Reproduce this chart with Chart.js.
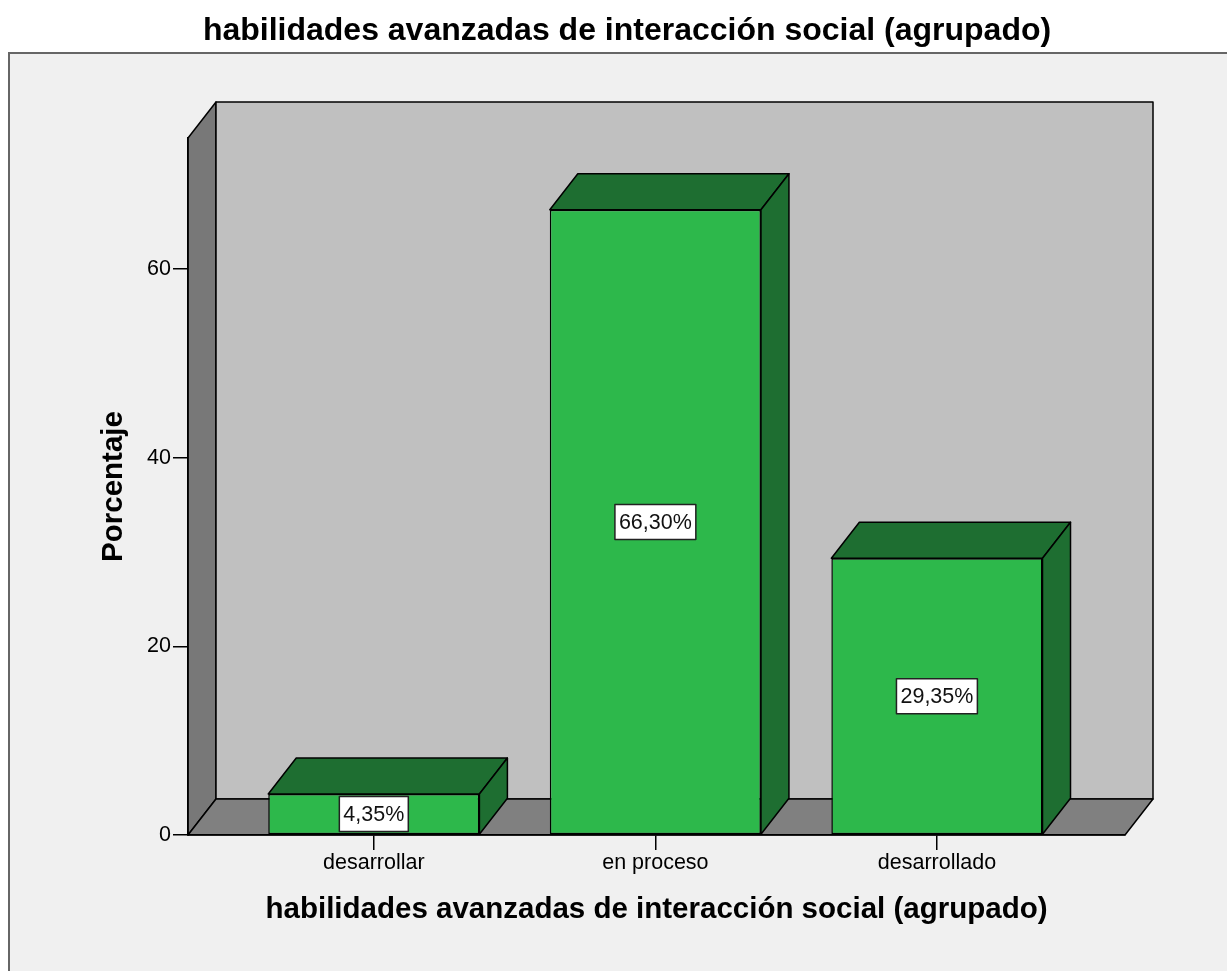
<!DOCTYPE html>
<html>
<head>
<meta charset="utf-8">
<script src="https://cdn.jsdelivr.net/npm/chart.js@4.4.1/dist/chart.umd.min.js"></script>
<style>
  body { margin: 0; background: #fff; }
  canvas { display: block; }
</style>
</head>
<body>
<canvas id="barChart" width="1227" height="971"></canvas>
<script>
const categories = ["desarrollar", "en proceso", "desarrollado"];
const percentages = [4.35, 66.30, 29.35];
const yTicks = [0, 20, 40, 60];
const yMax = 73.9;
const chartTitle = "habilidades avanzadas de interacción social (agrupado)";
const xTitle = "habilidades avanzadas de interacción social (agrupado)";
const yTitle = "Porcentaje";

const FONT = '"Liberation Sans", Arial, sans-serif';
const DX = 28, DY = -36; // 3d depth offset

Chart.defaults.color = '#000';
Chart.defaults.font.family = FONT;

function poly(ctx, pts, fill) {
    ctx.beginPath();
    ctx.moveTo(pts[0][0], pts[0][1]);
    for (let i = 1; i < pts.length; i++) ctx.lineTo(pts[i][0], pts[i][1]);
    ctx.closePath();
    ctx.fillStyle = fill;
    ctx.fill();
    ctx.stroke();
}

const box3d = {
    id: 'box3d',
    beforeDraw(chart) {
        const ctx = chart.ctx;
        const {left, right, top, bottom} = chart.chartArea;
        ctx.save();
        ctx.fillStyle = '#fff';
        ctx.fillRect(0, 0, chart.width, chart.height);
        ctx.fillStyle = '#f0f0f0';
        ctx.fillRect(10, 54, chart.width, chart.height);
        ctx.strokeStyle = '#666';
        ctx.lineWidth = 2;
        ctx.strokeRect(9, 53, chart.width + 20, chart.height + 20);

        ctx.strokeStyle = '#000';
        ctx.lineWidth = 1.5;
        ctx.lineJoin = 'round';
        // left wall
        poly(ctx, [[left, top], [left + DX, top + DY], [left + DX, bottom + DY], [left, bottom]], '#787878');
        // back wall
        poly(ctx, [[left + DX, top + DY], [right + DX, top + DY], [right + DX, bottom + DY], [left + DX, bottom + DY]], '#c0c0c0');
        // floor
        poly(ctx, [[left, bottom], [left + DX, bottom + DY], [right + DX, bottom + DY], [right, bottom]], '#808080');
        ctx.restore();
    },
    afterDatasetsDraw(chart) {
        const ctx = chart.ctx;
        const meta = chart.getDatasetMeta(0);
        ctx.save();
        ctx.strokeStyle = '#000';
        ctx.lineWidth = 1.5;
        ctx.lineJoin = 'round';
        meta.data.forEach((bar, i) => {
            const {x, y, base, width} = bar.getProps(['x', 'y', 'base', 'width'], true);
            const x0 = x - width / 2, x1 = x + width / 2;
            poly(ctx, [[x0, y], [x0 + DX, y + DY], [x1 + DX, y + DY], [x1, y]], '#1e6e31');
            poly(ctx, [[x1, y], [x1 + DX, y + DY], [x1 + DX, base + DY], [x1, base]], '#1e6e31');

            // value label
            const txt = percentages[i].toFixed(2).replace('.', ',') + '%';
            ctx.font = '21.5px ' + FONT;
            const w = ctx.measureText(txt).width + 8;
            const h = 35;
            const cy = (y + base) / 2;
            ctx.fillStyle = '#fff';
            ctx.strokeStyle = '#222';
            ctx.fillRect(x - w / 2, cy - h / 2, w, h);
            ctx.strokeRect(x - w / 2, cy - h / 2, w, h);
            ctx.fillStyle = '#111';
            ctx.textAlign = 'center';
            ctx.textBaseline = 'middle';
            ctx.fillText(txt, x, cy + 1);
            ctx.strokeStyle = '#000';
        });
        ctx.restore();
    }
};

const tickFont = {family: FONT, size: 21.5};
const titleFont = {family: FONT, size: 29.5, weight: 'bold'};

new Chart(document.getElementById('barChart'), {
    type: 'bar',
    data: {
        datasets: [{
            label: 'Porcentaje',
            data: categories.map((c, i) => ({x: i, y: percentages[i]})),
            backgroundColor: '#2db84b',
            borderColor: '#000',
            borderWidth: 1.5,
            borderSkipped: false,
            categoryPercentage: 1,
            barPercentage: 0.75
        }]
    },
    options: {
        responsive: false,
        animation: false,
        layout: {padding: {left: 27, right: 0, top: 0, bottom: 0}},
        plugins: {
            legend: {display: false},
            tooltip: {enabled: false},
            title: {
                display: true,
                text: chartTitle,
                color: '#000',
                font: {family: FONT, size: 32, weight: 'bold'},
                padding: {top: 12, bottom: 87.6}
            }
        },
        scales: {
            x: {
                type: 'linear',
                offset: false,
                min: -0.66,
                max: 2.668,
                ticks: {
                    stepSize: 1,
                    includeBounds: false,
                    autoSkip: false,
                    maxRotation: 0,
                    padding: 0,
                    font: tickFont,
                    callback: v => categories[v]
                },
                grid: {offset: false, drawOnChartArea: false, drawTicks: true, tickLength: 15, color: '#000', lineWidth: 1.5},
                border: {color: '#000', width: 1.5},
                title: {display: true, text: xTitle, font: titleFont, padding: {top: 0, bottom: 43.3}},
                afterFit: s => { s.height = 136; }
            },
            y: {
                min: 0,
                max: yMax,
                afterBuildTicks: s => { s.ticks = yTicks.map(v => ({value: v})); },
                ticks: {padding: 2, font: tickFont},
                grid: {drawOnChartArea: false, drawTicks: true, tickLength: 15, color: '#000', lineWidth: 1.5},
                border: {color: '#000', width: 1.5},
                title: {display: true, text: yTitle, font: titleFont, padding: {top: 69.3, bottom: 0}},
                afterFit: s => { s.width = 161; }
            },
            spacer: {
                type: 'linear',
                position: 'right',
                ticks: {display: false},
                grid: {display: false},
                border: {display: false},
                afterFit: s => { s.width = 102; }
            }
        }
    },
    plugins: [box3d]
});
</script>
</body>
</html>
